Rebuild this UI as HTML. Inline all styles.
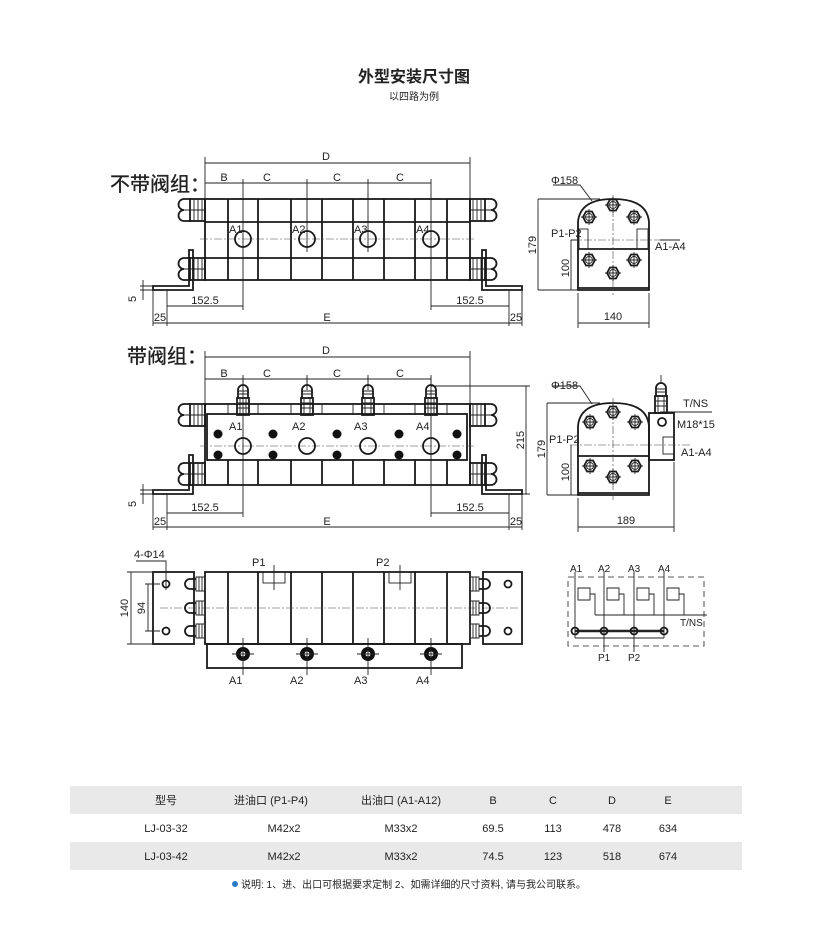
<!DOCTYPE html>
<html><head><meta charset="utf-8"><style>
body{margin:0;background:#fff;width:828px;height:937px;overflow:hidden}
svg{display:block}
.l{stroke:#1a1a1a;stroke-width:1.8;fill:none}
.t{stroke:#222;stroke-width:0.9;fill:none}
.c{stroke:#444;stroke-width:0.6;fill:none;stroke-dasharray:8 2 2 2}
text{font-family:"Liberation Sans","Noto Sans CJK SC",sans-serif;fill:#222}
.d{font-size:11px;font-family:"Liberation Sans",sans-serif}
</style></head><body>
<svg width="828" height="937" viewBox="0 0 828 937" xmlns="http://www.w3.org/2000/svg">
<defs>
<g id="bl"><path class="l" d="M191 0 h-7 a5.5 5.5 0 0 0 0 11 a5.5 5.5 0 0 0 0 11 h7"/><rect class="l" x="190" y="0" width="15" height="22"/><path class="t" d="M194 0v22M198 0v22M202 0v22M184 11h21"/></g>
<g id="br"><path class="l" d="M484 0 h7 a5.5 5.5 0 0 1 0 11 a5.5 5.5 0 0 1 0 11 h-7"/><rect class="l" x="470" y="0" width="15" height="22"/><path class="t" d="M473 0v22M477 0v22M481 0v22M470 11h21"/></g>
<g id="vv"><rect class="l" x="-6" y="-2" width="12" height="17" fill="#fff"/><path class="t" d="M-6 3h12M-6 8h12M-3 -2v17M3 -2v17"/><path class="l" d="M-5 -2v-8a5 5 0 0 1 10 0v8"/><path class="t" d="M-5 -6h10M-5 -9h10M0 -15v-8"/></g>
<g id="hx"><polygon class="l" points="-6,0 -3,-5.5 3,-5.5 6,0 3,5.5 -3,5.5"/><circle class="t" r="3.5"/><path class="t" d="M-8 0h16M0 -8v16"/></g>
</defs>

<text x="414" y="82" text-anchor="middle" font-size="16" font-weight="bold" fill="#333">外型安装尺寸图</text>
<text x="414" y="100" text-anchor="middle" font-size="10" fill="#666">以四路为例</text>

<!-- VIEW 1 -->
<text x="110" y="191" font-size="20" fill="#111" stroke="#111" stroke-width="0.3">不带阀组：</text>
<path class="t" d="M205 163H470M205 157V199M470 157V199M205 183H431M243 179V310M307 179V252M368 179V252M431 179V310"/>
<text class="d" x="326" y="160" text-anchor="middle">D</text>
<text class="d" x="224" y="181" text-anchor="middle">B</text>
<text class="d" x="267" y="181" text-anchor="middle">C</text>
<text class="d" x="337" y="181" text-anchor="middle">C</text>
<text class="d" x="400" y="181" text-anchor="middle">C</text>
<rect class="l" x="205" y="199" width="265" height="81"/>
<path class="l" d="M205 222H470M205 258H470M228 199v81M258 199v81M291 199v81M322 199v81M353 199v81M384 199v81M415 199v81M447 199v81"/>
<path class="c" d="M200 239H476"/>
<g fill="#fff"><circle class="l" cx="243" cy="239" r="8"/><circle class="l" cx="307" cy="239" r="8"/><circle class="l" cx="368" cy="239" r="8"/><circle class="l" cx="431" cy="239" r="8"/></g>
<text class="d" x="229" y="233">A1</text><text class="d" x="292" y="233">A2</text><text class="d" x="354" y="233">A3</text><text class="d" x="416" y="233">A4</text>
<use href="#bl" y="199"/><use href="#bl" y="258"/><use href="#br" y="199"/><use href="#br" y="258"/>
<path class="l" d="M189 250V286H153V290H193V250Z" fill="#fff"/>
<path class="l" d="M486 250V286H522V290H482V250Z" fill="#fff"/>
<path class="t" d="M140 286H153M140 290H153M143 280V300M153 290V326M167 290V326M509 290V326M522 290V326M167 306H243M431 306H509M153 323H522"/>
<text class="d" x="136" y="302" transform="rotate(-90 136 302)" font-size="10">5</text>
<text class="d" x="205" y="304" text-anchor="middle">152.5</text>
<text class="d" x="470" y="304" text-anchor="middle">152.5</text>
<text class="d" x="160" y="321" text-anchor="middle" font-size="10">25</text>
<text class="d" x="516" y="321" text-anchor="middle" font-size="10">25</text>
<text class="d" x="327" y="321" text-anchor="middle">E</text>

<!-- SIDE 1 -->
<path class="l" d="M578 290V222Q580 199 613 199Q647 199 649 222V290Z"/>
<path class="l" d="M578 249H649M578 288H649"/>
<path class="c" d="M570 240H660M613 195V295"/>
<rect class="t" x="579" y="229" width="9" height="20"/><rect class="t" x="637" y="229" width="11" height="20"/>
<use href="#hx" x="589" y="217"/><use href="#hx" x="613" y="205"/><use href="#hx" x="634" y="217"/>
<use href="#hx" x="589" y="260"/><use href="#hx" x="613" y="273"/><use href="#hx" x="634" y="260"/>
<path class="t" d="M538 199H600M538 290H578M538 199V290M571 240V290M571 240H578M578 293V328M649 293V328M578 323H649M553 185H580L592 201M660 240H680"/>
<text class="d" x="551" y="184">Φ158</text>
<text class="d" x="551" y="237">P1-P2</text>
<text class="d" x="655" y="250">A1-A4</text>
<text class="d" x="536" y="245" transform="rotate(-90 536 245)" font-size="10" text-anchor="middle">179</text>
<text class="d" x="569" y="268" transform="rotate(-90 569 268)" font-size="10" text-anchor="middle">100</text>
<text class="d" x="613" y="320" text-anchor="middle">140</text>

<!-- VIEW 2 -->
<text x="127" y="363" font-size="20" fill="#111" stroke="#111" stroke-width="0.3">带阀组：</text>
<path class="t" d="M205 357H470M205 351V404M470 351V404M205 379H431M243 375V517M307 375V390M368 375V390M431 375V517M431 386H530M497 494H530M526 386V494"/>
<text class="d" x="326" y="354" text-anchor="middle">D</text>
<text class="d" x="224" y="377" text-anchor="middle">B</text>
<text class="d" x="267" y="377" text-anchor="middle">C</text>
<text class="d" x="337" y="377" text-anchor="middle">C</text>
<text class="d" x="400" y="377" text-anchor="middle">C</text>
<text class="d" x="524" y="440" transform="rotate(-90 524 440)" font-size="10" text-anchor="middle">215</text>
<rect class="l" x="205" y="404" width="265" height="81"/>
<path class="t" d="M228 404v10M258 404v10M291 404v10M322 404v10M353 404v10M384 404v10M415 404v10M447 404v10"/>
<path class="l" d="M228 460v25M258 460v25M291 460v25M322 460v25M353 460v25M384 460v25M415 460v25M447 460v25"/>
<rect class="l" x="207" y="414" width="260" height="46" fill="#fff"/>
<path class="c" d="M200 446H476"/>
<g fill="#111"><circle cx="218" cy="434" r="4.5"/><circle cx="273" cy="434" r="4.5"/><circle cx="337" cy="434" r="4.5"/><circle cx="399" cy="434" r="4.5"/><circle cx="457" cy="434" r="4.5"/><circle cx="218" cy="455" r="4.5"/><circle cx="273" cy="455" r="4.5"/><circle cx="337" cy="455" r="4.5"/><circle cx="399" cy="455" r="4.5"/><circle cx="457" cy="455" r="4.5"/></g>
<g fill="#fff"><circle class="l" cx="243" cy="446" r="8"/><circle class="l" cx="307" cy="446" r="8"/><circle class="l" cx="368" cy="446" r="8"/><circle class="l" cx="431" cy="446" r="8"/></g>
<text class="d" x="229" y="430">A1</text><text class="d" x="292" y="430">A2</text><text class="d" x="354" y="430">A3</text><text class="d" x="416" y="430">A4</text>
<use href="#vv" x="243" y="400"/><use href="#vv" x="307" y="400"/><use href="#vv" x="368" y="400"/><use href="#vv" x="431" y="400"/>
<use href="#bl" y="404"/><use href="#bl" y="463"/><use href="#br" y="404"/><use href="#br" y="463"/>
<path class="l" d="M189 455V490H153V494H193V455Z" fill="#fff"/>
<path class="l" d="M486 455V490H522V494H482V455Z" fill="#fff"/>
<path class="t" d="M140 490H153M140 494H153M143 484V504M153 494V530M167 494V530M509 494V530M522 494V530M167 513H243M431 513H509M153 527H522"/>
<text class="d" x="136" y="507" transform="rotate(-90 136 507)" font-size="10">5</text>
<text class="d" x="205" y="511" text-anchor="middle">152.5</text>
<text class="d" x="470" y="511" text-anchor="middle">152.5</text>
<text class="d" x="160" y="525" text-anchor="middle" font-size="10">25</text>
<text class="d" x="516" y="525" text-anchor="middle" font-size="10">25</text>
<text class="d" x="327" y="525" text-anchor="middle">E</text>

<!-- SIDE 2 -->
<path class="l" d="M578 495V426Q580 403 613 403Q647 403 649 426V495Z"/>
<path class="l" d="M578 456H649M578 493H649"/>
<rect class="l" x="649" y="413" width="25" height="47"/>
<rect class="t" x="663" y="437" width="11" height="17"/>
<path class="c" d="M570 445H690M613 398V500"/>
<use href="#vv" x="661" y="398"/>
<circle class="l" cx="662" cy="422" r="4"/>
<use href="#hx" x="590" y="422"/><use href="#hx" x="613" y="412"/><use href="#hx" x="635" y="422"/>
<use href="#hx" x="590" y="466"/><use href="#hx" x="613" y="477"/><use href="#hx" x="635" y="466"/>
<path class="t" d="M547 403H600M547 495H578M547 403V495M571 445V495M578 498V532M674 462V532M578 527H674M553 386H580L592 404M660 412H712"/>
<text class="d" x="551" y="389">Φ158</text>
<text class="d" x="549" y="443">P1-P2</text>
<text class="d" x="683" y="407">T/NS</text>
<text class="d" x="677" y="428">M18*15</text>
<text class="d" x="681" y="456">A1-A4</text>
<text class="d" x="545" y="449" transform="rotate(-90 545 449)" font-size="10" text-anchor="middle">179</text>
<text class="d" x="569" y="472" transform="rotate(-90 569 472)" font-size="10" text-anchor="middle">100</text>
<text class="d" x="626" y="524" text-anchor="middle">189</text>

<!-- BOTTOM VIEW -->
<rect class="l" x="205" y="572" width="265" height="72"/>
<path class="l" d="M228 572v72M258 572v72M291 572v72M322 572v72M353 572v72M384 572v72M415 572v72M447 572v72"/>
<rect class="l" x="153" y="572" width="41" height="72"/><rect class="l" x="483" y="572" width="39" height="72"/>
<rect class="l" x="207" y="644" width="255" height="24"/>
<rect class="t" x="263" y="572" width="22" height="11"/><rect class="t" x="389" y="572" width="22" height="11"/>
<path class="t" d="M274 565V590M400 565V590"/>
<path class="c" d="M160 608H520"/>
<g fill="#fff">
<path class="l" d="M196 579h-6a5 5 0 0 0 0 10h6M196 603h-6a5 5 0 0 0 0 10h6M196 626h-6a5 5 0 0 0 0 10h6"/>
<path class="l" d="M479 579h6a5 5 0 0 1 0 10h-6M479 603h6a5 5 0 0 1 0 10h-6M479 626h6a5 5 0 0 1 0 10h-6"/>
</g>
<path class="t" d="M196 577h9v14h-9zM196 601h9v14h-9zM196 624h9v14h-9zM470 577h9v14h-9zM470 601h9v14h-9zM470 624h9v14h-9zM199 577v14M202 577v14M199 601v14M202 601v14M199 624v14M202 624v14M473 577v14M476 577v14M473 601v14M476 601v14M473 624v14M476 624v14"/>
<g fill="#fff"><circle class="l" cx="166" cy="584" r="3.5"/><circle class="l" cx="166" cy="631" r="3.5"/><circle class="l" cx="508" cy="584" r="3.5"/><circle class="l" cx="508" cy="631" r="3.5"/></g>
<g><circle cx="243" cy="654" r="7" fill="#111"/><circle cx="307" cy="654" r="7" fill="#111"/><circle cx="368" cy="654" r="7" fill="#111"/><circle cx="431" cy="654" r="7" fill="#111"/>
<circle cx="243" cy="654" r="2.5" fill="#fff"/><circle cx="307" cy="654" r="2.5" fill="#fff"/><circle cx="368" cy="654" r="2.5" fill="#fff"/><circle cx="431" cy="654" r="2.5" fill="#fff"/></g>
<path class="t" d="M243 638V675M307 638V675M368 638V675M431 638V675M232 654h22M296 654h22M357 654h22M420 654h22"/>
<text class="d" x="229" y="684">A1</text><text class="d" x="290" y="684">A2</text><text class="d" x="354" y="684">A3</text><text class="d" x="416" y="684">A4</text>
<text class="d" x="252" y="566">P1</text><text class="d" x="376" y="566">P2</text>
<path class="t" d="M127 572H153M127 644H153M131 572V644M145 584H160M145 631H160M148 584V631M136 561H166V590"/>
<text class="d" x="134" y="558" font-size="10">4-Φ14</text>
<text class="d" x="128" y="608" transform="rotate(-90 128 608)" font-size="10" text-anchor="middle">140</text>
<text class="d" x="145" y="608" transform="rotate(-90 145 608)" font-size="10" text-anchor="middle">94</text>

<!-- SCHEMATIC -->
<rect x="568" y="577" width="136" height="69" fill="none" stroke="#222" stroke-width="0.8" stroke-dasharray="6 4"/>
<path class="t" d="M575 572V631M604 572V631M634 572V631M664 572V631M575 638H664M575 631V638M664 631V638M604 631V652M634 631V652M595 615H707"/>
<path class="t" d="M578 588h12v12h-12zM607 588h12v12h-12zM637 588h12v12h-12zM667 588h12v12h-12zM590 594h5v21M619 594h5v21M649 594h5v21M679 594h5v21"/>
<path stroke="#222" stroke-width="2.5" d="M575 631H664"/>
<g fill="#fff"><circle class="l" cx="575" cy="631" r="3.5"/><circle class="l" cx="604" cy="631" r="3.5"/><circle class="l" cx="634" cy="631" r="3.5"/><circle class="l" cx="664" cy="631" r="3.5"/></g>
<g font-family="'Liberation Serif',serif" font-size="10"><text x="570" y="572">A1</text><text x="598" y="572">A2</text><text x="628" y="572">A3</text><text x="658" y="572">A4</text><text x="680" y="626">T/NS</text><text x="598" y="661">P1</text><text x="628" y="661">P2</text></g>

<!-- TABLE -->
<rect x="70" y="786" width="672" height="28" fill="#e9e9ea"/>
<rect x="70" y="842" width="672" height="28" fill="#e9e9ea"/>
<g font-size="11" fill="#666" text-anchor="middle">
<text x="166" y="804">型号</text><text x="271" y="804">进油口 (P1-P4)</text><text x="401" y="804">出油口 (A1-A12)</text><text x="493" y="804">B</text><text x="553" y="804">C</text><text x="612" y="804">D</text><text x="668" y="804">E</text>
<text x="166" y="832">LJ-03-32</text><text x="284" y="832">M42x2</text><text x="401" y="832">M33x2</text><text x="493" y="832">69.5</text><text x="553" y="832">113</text><text x="612" y="832">478</text><text x="668" y="832">634</text>
<text x="166" y="860">LJ-03-42</text><text x="284" y="860">M42x2</text><text x="401" y="860">M33x2</text><text x="493" y="860">74.5</text><text x="553" y="860">123</text><text x="612" y="860">518</text><text x="668" y="860">674</text>
</g>
<circle cx="235" cy="884" r="3" fill="#2a7bc6"/>
<text x="241" y="888" font-size="10" fill="#2a7bc6">说明: 1、进、出口可根据要求定制 2、如需详细的尺寸资料, 请与我公司联系。</text>
</svg>
</body></html>
